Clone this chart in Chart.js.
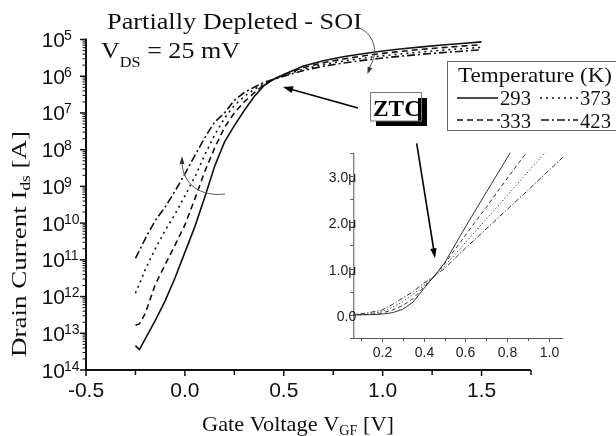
<!DOCTYPE html>
<html>
<head>
<meta charset="utf-8">
<title>Drain current vs gate voltage</title>
<script src="https://cdn.jsdelivr.net/npm/chart.js@4.4.0/dist/chart.umd.min.js"></script>
<style>
	body { margin: 0; background: #fff; }
	#wrap { position: relative; width: 616px; height: 436px; overflow: hidden; }
	#main { position: absolute; left: 0; top: 0; }
	#inset { position: absolute; left: 300px; top: 140px; }
</style>
</head>
<body>
<div id="wrap">
	<canvas id="main" width="616" height="436"></canvas>
	<canvas id="inset" width="316" height="240"></canvas>
</div>
<script>
// gate voltage (V) and drain current (A) for each temperature
var vgf = [-0.25, -0.23, -0.2, -0.15, -0.1, -0.05, 0, 0.05, 0.1, 0.15, 0.2, 0.25, 0.3, 0.35, 0.4, 0.45, 0.5, 0.6, 0.7, 0.8, 0.9, 1.0, 1.1, 1.2, 1.3, 1.4, 1.5];
var id293 = [4.6e-14, 3.6e-14, 7.1e-14, 2.2e-13, 7.6e-13, 3.2e-12, 1.6e-11, 7.9e-11, 5.0e-10, 3.5e-9, 1.6e-8, 4.5e-8, 1.17e-7, 2.75e-7, 5.6e-7, 8.3e-7, 1.12e-6, 1.9e-6, 2.65e-6, 3.4e-6, 4.1e-6, 4.85e-6, 5.6e-6, 6.3e-6, 7.1e-6, 7.8e-6, 8.6e-6];
var id333 = [1.66e-13, 1.8e-13, 3.5e-13, 2.1e-12, 7.4e-12, 2.5e-11, 8.9e-11, 4.5e-10, 2.5e-9, 1.1e-8, 4.0e-8, 1.0e-7, 2.0e-7, 3.5e-7, 5.9e-7, 8.3e-7, 1.1e-6, 1.72e-6, 2.33e-6, 2.95e-6, 3.56e-6, 4.2e-6, 4.8e-6, 5.4e-6, 6.0e-6, 6.6e-6, 7.2e-6];
var id373 = [1.23e-12, 2.2e-12, 5.5e-12, 2.0e-11, 6.3e-11, 1.74e-10, 5.5e-10, 1.8e-9, 7.1e-9, 2.5e-8, 7.1e-8, 1.6e-7, 2.8e-7, 4.4e-7, 6.3e-7, 8.3e-7, 1.05e-6, 1.56e-6, 2.07e-6, 2.58e-6, 3.1e-6, 3.6e-6, 4.1e-6, 4.6e-6, 5.1e-6, 5.6e-6, 6.1e-6];
var id423 = [1.1e-11, 1.8e-11, 3.8e-11, 1.17e-10, 2.75e-10, 7.4e-10, 2.2e-9, 6.9e-9, 2.1e-8, 5.6e-8, 1.0e-7, 2.2e-7, 3.6e-7, 5.0e-7, 6.8e-7, 8.3e-7, 1.0e-6, 1.44e-6, 1.86e-6, 2.28e-6, 2.7e-6, 3.13e-6, 3.55e-6, 3.97e-6, 4.4e-6, 4.8e-6, 5.25e-6];
var temps = ['293', '333', '373', '423'];

// main axis ticks
var xTicks = [-0.5, -0.25, 0, 0.25, 0.5, 0.75, 1.0, 1.25, 1.5, 1.75];
var xTickLabels = ['-0.5', '', '0.0', '', '0.5', '', '1.0', '', '1.5', ''];
var yDecades = [-14, -13, -12, -11, -10, -9, -8, -7, -6, -5];
var yTickLabels = ['14', '13', '12', '11', '10', '9', '8', '7', '6', '5'];

// inset axis ticks (current in uA)
var insetXTicks = [0.1, 0.2, 0.3, 0.4, 0.5, 0.6, 0.7, 0.8, 0.9, 1.0];
var insetXLabels = ['', '0.2', '', '0.4', '', '0.6', '', '0.8', '', '1.0'];
var insetYTicks = [-0.5, 0, 0.5, 1.0, 1.5, 2.0, 2.5, 3.0, 3.5];
var insetYLabels = ['', '0.0', '', '1.0\u03bc', '', '2.0\u03bc', '', '3.0\u03bc', ''];

var SANS = '"Liberation Sans", Arial, sans-serif';
var SERIF = '"Liberation Serif", "Times New Roman", serif';
var series = [id293, id333, id373, id423];
var mainDash = [[], [6, 4], [2, 4], [8, 3, 2, 3]];
var insetDash = [[], [4, 3], [1.2, 2.2], [5, 2, 1.2, 2]];

function points(arr, k) {
	return vgf.map(function (v, i) { return { x: v, y: arr[i] * k }; });
}

function line(ctx, x1, y1, x2, y2) {
	ctx.beginPath();
	ctx.moveTo(x1, y1);
	ctx.lineTo(x2, y2);
	ctx.stroke();
}

// segs: [text, size, dy, family, bold]
function richText(ctx, segs, x, y, align, fitWidth) {
	var w = 0;
	segs.forEach(function (s) {
		ctx.font = (s[4] ? 'bold ' : '') + s[1] + 'px ' + (s[3] || SERIF);
		s.w = ctx.measureText(s[0]).width;
		w += s.w;
	});
	ctx.save();
	ctx.translate(x, y);
	if (fitWidth) ctx.scale(fitWidth / w, 1);
	var cx = align === 'center' ? -w / 2 : (align === 'right' ? -w : 0);
	ctx.textAlign = 'left';
	ctx.textBaseline = 'alphabetic';
	segs.forEach(function (s) {
		ctx.font = (s[4] ? 'bold ' : '') + s[1] + 'px ' + (s[3] || SERIF);
		ctx.fillText(s[0], cx, s[2] || 0);
		cx += s.w;
	});
	ctx.restore();
}

function arrowHead(ctx, x1, y1, x2, y2, len, half) {
	var a = Math.atan2(y2 - y1, x2 - x1);
	ctx.beginPath();
	ctx.moveTo(x2, y2);
	ctx.lineTo(x2 - len * Math.cos(a) + half * Math.sin(a), y2 - len * Math.sin(a) - half * Math.cos(a));
	ctx.lineTo(x2 - len * Math.cos(a) - half * Math.sin(a), y2 - len * Math.sin(a) + half * Math.cos(a));
	ctx.closePath();
	ctx.fill();
}

var mainDecor = {
	id: 'mainDecor',
	afterDraw: function (chart) {
		var ctx = chart.ctx, a = chart.chartArea;
		var xs = chart.scales.x, ys = chart.scales.y;
		ctx.save();
		ctx.strokeStyle = '#111';
		ctx.fillStyle = '#111';

		// axes
		ctx.lineWidth = 2;
		ctx.beginPath();
		ctx.moveTo(a.left, a.top - 1);
		ctx.lineTo(a.left, a.bottom);
		ctx.lineTo(a.right, a.bottom);
		ctx.stroke();

		ctx.lineWidth = 1.5;
		xTicks.forEach(function (v, i) {
			var px = xs.getPixelForValue(v);
			line(ctx, px, a.bottom, px, a.bottom + (xTickLabels[i] ? 6 : 5));
			if (xTickLabels[i]) richText(ctx, [[xTickLabels[i], 21, 0, SANS]], px, a.bottom + 27, 'center');
		});

		yDecades.forEach(function (d, i) {
			var py = ys.getPixelForValue(Math.pow(10, d));
			ctx.lineWidth = 1.5;
			line(ctx, a.left - 6, py, a.left, py);
			if (d < -5) {
				ctx.lineWidth = 1;
				for (var m = 2; m <= 9; m++) {
					var pm = ys.getPixelForValue(m * Math.pow(10, d));
					line(ctx, a.left - 3.5, pm, a.left, pm);
				}
			}
			richText(ctx, [['10', 21, 0, SANS]], 65, py + 7.5, 'right');
			richText(ctx, [[yTickLabels[i], 14, 0, SANS]], 64, py + 0.5, 'left');
		});

		// axis titles
		richText(ctx, [['Gate Voltage V', 22], ['GF', 14, 4], [' [V]', 22]], 298, 431, 'center', 192);
		ctx.save();
		ctx.translate(26, 244);
		ctx.rotate(-Math.PI / 2);
		richText(ctx, [['Drain Current I', 22], ['ds', 14, 4], [' [A]', 22]], 0, 0, 'center', 226);
		ctx.restore();

		// headline text
		richText(ctx, [['Partially Depleted - SOI', 24]], 107, 29, 'left', 255);
		richText(ctx, [['V', 24], ['DS', 15, 9], [' = 25 mV', 24]], 101, 58, 'left', 139);

		// ZTC callout
		ctx.fillStyle = '#000';
		ctx.fillRect(376, 98, 51, 28);
		ctx.fillStyle = '#fff';
		ctx.fillRect(371, 92, 47, 29);
		ctx.strokeStyle = '#777';
		ctx.lineWidth = 1;
		ctx.strokeRect(370.5, 92.5, 51, 28.5);
		ctx.fillStyle = '#000';
		richText(ctx, [['ZTC', 24, 0, SERIF, true]], 373, 115.5, 'left', 48);

		ctx.strokeStyle = '#000';
		ctx.lineWidth = 1.6;
		line(ctx, 358, 108, 290, 89);
		arrowHead(ctx, 358, 108, 283, 87, 10, 3.5);
		line(ctx, 416.7, 143.3, 433.8, 250);
		arrowHead(ctx, 416.7, 143.3, 435, 258.3, 10, 3.2);

		// temperature trend arrows
		ctx.strokeStyle = '#555';
		ctx.fillStyle = '#333';
		ctx.lineWidth = 1;
		ctx.beginPath();
		ctx.moveTo(357, 27);
		ctx.bezierCurveTo(374, 33, 380, 52, 369, 68);
		ctx.stroke();
		arrowHead(ctx, 372, 62, 367.5, 74, 7, 2.5);
		ctx.beginPath();
		ctx.moveTo(225, 194);
		ctx.bezierCurveTo(200, 197, 183, 184, 182, 163);
		ctx.stroke();
		arrowHead(ctx, 182, 168, 182, 156, 8, 2.5);

		// legend
		ctx.strokeStyle = '#666';
		ctx.lineWidth = 1;
		ctx.strokeRect(447.5, 61.5, 180, 69);
		ctx.fillStyle = '#111';
		richText(ctx, [['Temperature (K)', 21]], 458, 82, 'left', 154);
		var slots = [[457, 498, 98, 500, 105], [457, 500, 120, 500, 128], [540, 578, 98, 580, 105], [541, 578, 120, 580, 128]];
		slots.forEach(function (s, i) {
			ctx.strokeStyle = '#111';
			ctx.lineWidth = 1.3;
			ctx.setLineDash(chart.data.datasets[i].borderDash);
			line(ctx, s[0], s[2], s[1], s[2]);
			ctx.setLineDash([]);
			richText(ctx, [[temps[i], 20]], s[3], s[4], 'left', 31);
		});
		ctx.restore();
	}
};

var insetDecor = {
	id: 'insetDecor',
	afterDraw: function (chart) {
		var ctx = chart.ctx, a = chart.chartArea;
		var xs = chart.scales.x, ys = chart.scales.y;
		ctx.save();
		ctx.strokeStyle = '#555';
		ctx.fillStyle = '#222';
		ctx.lineWidth = 1;
		ctx.beginPath();
		ctx.moveTo(a.left + 0.5, a.top);
		ctx.lineTo(a.left + 0.5, a.bottom + 0.5);
		ctx.lineTo(a.right, a.bottom + 0.5);
		ctx.stroke();
		insetXTicks.forEach(function (v, i) {
			var px = Math.round(xs.getPixelForValue(v)) + 0.5;
			line(ctx, px, a.bottom, px, a.bottom + (insetXLabels[i] ? 4 : 3));
			if (insetXLabels[i]) richText(ctx, [[insetXLabels[i], 14, 0, SANS]], px, a.bottom + 19, 'center');
		});
		insetYTicks.forEach(function (v, i) {
			var py = Math.round(ys.getPixelForValue(v)) + 0.5;
			line(ctx, a.left - 3, py, a.left, py);
			if (insetYLabels[i]) richText(ctx, [[insetYLabels[i], 14, 0, SANS]], a.left + 3, py + 5, 'right');
		});
		ctx.restore();
	}
};

new Chart(document.getElementById('main').getContext('2d'), {
	type: 'line',
	data: {
		datasets: series.map(function (arr, i) {
			return {
				label: temps[i],
				data: points(arr, 1),
				borderColor: '#111',
				borderWidth: 1.6,
				borderDash: mainDash[i],
				pointRadius: 0,
				fill: false,
				tension: 0
			};
		})
	},
	options: {
		responsive: false,
		animation: false,
		devicePixelRatio: 1,
		layout: { padding: { left: 86, top: 39.5, right: 85, bottom: 66 } },
		plugins: { legend: { display: false }, tooltip: { enabled: false } },
		scales: {
			x: { type: 'linear', min: -0.5, max: 1.75, display: false },
			y: { type: 'logarithmic', min: 1e-14, max: 1e-5, display: false }
		}
	},
	plugins: [mainDecor]
});

new Chart(document.getElementById('inset').getContext('2d'), {
	type: 'line',
	data: {
		datasets: series.map(function (arr, i) {
			return {
				label: temps[i],
				data: points(arr, 1e6),
				borderColor: '#333',
				borderWidth: 1,
				borderDash: insetDash[i],
				pointRadius: 0,
				fill: false,
				tension: 0
			};
		})
	},
	options: {
		responsive: false,
		animation: false,
		devicePixelRatio: 1,
		layout: { padding: { left: 53.3, top: 12.7, right: 53, bottom: 42 } },
		plugins: { legend: { display: false }, tooltip: { enabled: false } },
		scales: {
			x: { type: 'linear', min: 0.065, max: 1.065, display: false },
			y: { type: 'linear', min: -0.5, max: 3.5, display: false }
		}
	},
	plugins: [insetDecor]
});
</script>
</body>
</html>
